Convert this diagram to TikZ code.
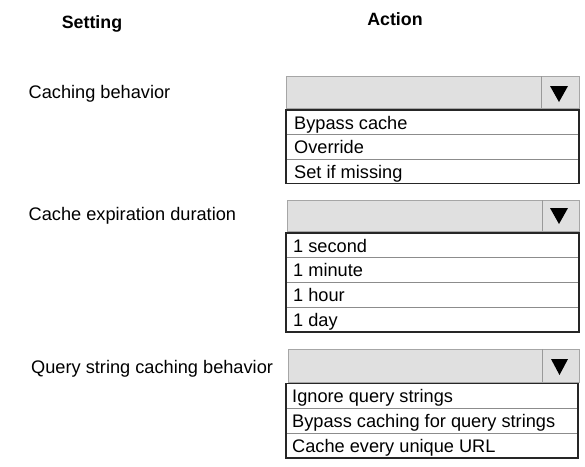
\documentclass[tikz,border=0pt]{standalone}
\usepackage{fontspec}
\setmainfont{Liberation Sans}
\begin{document}
\begin{tikzpicture}[x=1pt,y=-1pt,
  lbl/.style={anchor=base west,inner sep=0pt,font=\fontsize{18.2}{20}\selectfont},
  hdr/.style={anchor=base,inner sep=0pt,font=\bfseries\fontsize{17.8}{20}\selectfont},
  item/.style={anchor=base west,inner sep=0pt,font=\fontsize{18.2}{20}\selectfont},
  combo/.style={draw=black!35,fill=black!12,line width=1pt},
  sepline/.style={draw=black!40,line width=1pt},
  listbox/.style={draw=black!85,line width=1.1pt},
  rowline/.style={draw=black!45,line width=0.8pt},
  tri/.style={fill=black}]
\useasboundingbox (0,0) rectangle (585,466);
\fill[white] (0,0) rectangle (585,466);

% headings
\node[hdr] (hset) at (92,28) {Setting};
\node[hdr] (hact) at (395,25) {Action};

% labels
\node[lbl] (l1) at (28.5,98.5) {Caching behavior};
\node[lbl] (l2) at (28.5,220) {Cache expiration duration};
\node[lbl] (l3) at (31,373.5) {Query string caching behavior};

% dropdown 1
\path[combo] (286,76) rectangle (579,108);
\draw[sepline] (541,76) -- (541,108);
\fill[tri] (550,86) -- (568,86) -- (559,102) -- cycle;
\draw[rowline] (286,134.5) -- (579,134.5);
\draw[rowline] (286,159) -- (579,159);
\draw[listbox] (286,110) rectangle (579,183.5);
\node[item] (a1) at (294,129) {Bypass cache};
\node[item] (a2) at (294,153.5) {Override};
\node[item] (a3) at (294,178) {Set if missing};

% dropdown 2
\path[combo] (287,200) rectangle (579,231);
\draw[sepline] (542,200) -- (542,231);
\fill[tri] (550,208) -- (568,208) -- (559,224) -- cycle;
\draw[rowline] (286,257.75) -- (579,257.75);
\draw[rowline] (286,282.5) -- (579,282.5);
\draw[rowline] (286,307.25) -- (579,307.25);
\draw[listbox] (286,233) rectangle (579,332);
\node[item] (b1) at (293,252) {1 second};
\node[item] (b2) at (293,276.75) {1 minute};
\node[item] (b3) at (293,301.5) {1 hour};
\node[item] (b4) at (293,326.25) {1 day};

% dropdown 3
\path[combo] (288,349) rectangle (579,382);
\draw[sepline] (542,349) -- (542,382);
\fill[tri] (551,359) -- (568,359) -- (559.5,375) -- cycle;
\draw[rowline] (286,408) -- (578,408);
\draw[rowline] (286,433) -- (578,433);
\draw[listbox] (286,383.5) rectangle (578,458);
\node[item] (c1) at (292,402) {Ignore query strings};
\node[item] (c2) at (292,427) {Bypass caching for query strings};
\node[item] (c3) at (292,452) {Cache every unique URL};
\end{tikzpicture}
\end{document}
